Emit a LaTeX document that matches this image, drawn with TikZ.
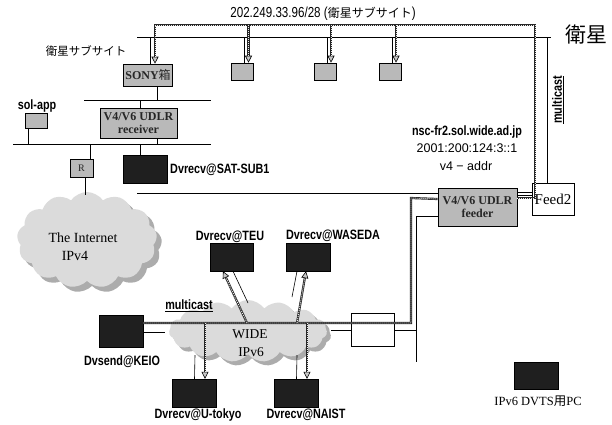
\documentclass[tikz,border=0pt]{standalone}
\usepackage{fontspec}
\setmainfont{Liberation Serif}
\newfontfamily\lb[FakeStretch=0.8]{Liberation Sans}
\newfontfamily\ls{Liberation Sans}
\newfontfamily\jp{Noto Sans CJK JP}
\usetikzlibrary{shapes.symbols,arrows.meta}
\tikzset{
  gbox/.style={draw=black, line width=0.6pt, fill=gray!55, inner sep=0pt, text=black!85,
    font=\rmfamily\bfseries\fontsize{12}{13}\selectfont, align=center},
  dbox/.style={draw=black, fill=black!88, inner sep=0pt, minimum width=44pt, minimum height=28pt},
  wbox/.style={draw=black, fill=white, line width=0.6pt, inner sep=0pt},
  lbl/.style={font=\lb\bfseries\fontsize{13.5}{14}\selectfont, inner sep=0pt},
  ln/.style={draw=black, line width=0.6pt},
  mcbase/.style={draw=black!85, line width=2.2pt},
  mc/.style={mcbase, postaction={draw=gray!15, line width=0.9pt, dash pattern=on 1pt off 1pt}},
  mca/.style={mcbase, -{Triangle[length=7pt, width=7pt, fill=gray!45, line width=0.6pt, color=black]},
    postaction={draw=gray!15, line width=0.9pt, dash pattern=on 1pt off 1pt, -, shorten >=7pt}},
  cl/.style={cloud, cloud puffs=13, cloud puff arc=110, draw=none, inner sep=0pt},
  ser/.style={font=\rmfamily\fontsize{14}{15}\selectfont, inner sep=0pt}
}
\begin{document}
\begin{tikzpicture}[x=1pt, y=-1pt]
\useasboundingbox (0,0) rectangle (612,424);

% clouds
\node[cl, fill=gray!65, minimum width=140pt, minimum height=96pt] (inetsh) at (92,245) {};
\node[cl, fill=gray!28, minimum width=140pt, minimum height=96pt] (inet) at (87,240) {};
\node[cl, fill=gray!65, minimum width=158pt, minimum height=62pt, cloud puffs=15] (widesh) at (252,335) {};
\node[cl, fill=gray!28, minimum width=158pt, minimum height=62pt, cloud puffs=15] (wide) at (248,331) {};
\node[ser] (inettxt1) at (83,238) {The Internet};
\node[ser] (inettxt2) at (75,256) {IPv4};
\node[ser, font=\rmfamily\fontsize{13.5}{14}\selectfont] (widetxt1) at (250,334) {WIDE};
\node[ser, font=\rmfamily\fontsize{13.5}{14}\selectfont] (widetxt2) at (251,352) {IPv6};

% texts
\node[inner sep=0pt] (toplbl) at (323,14) {{\lb\fontsize{14.5}{15}\selectfont 202.249.33.96/28 (}{\jp\fontsize{12}{12}\selectfont 衛星サブサイト}{\lb\fontsize{14.5}{15}\selectfont )}};
\node[inner sep=0pt, font=\jp\fontsize{21}{22}\selectfont] (eisei) at (586,35) {衛星};
\node[inner sep=0pt, font=\jp\fontsize{11.5}{12}\selectfont] (subsite) at (86,51) {衛星サブサイト};
\node[lbl] (solappl) at (37,106) {sol-app};
\node[lbl] (nsc) at (467,132) {nsc-fr2.sol.wide.ad.jp};
\node[inner sep=0pt, font=\ls\fontsize{12.5}{13}\selectfont] (v6addr) at (467,148) {2001:200:124:3::1};
\node[inner sep=0pt, font=\ls\fontsize{12.5}{13}\selectfont] (v4addr) at (466,166) {v4 − addr};
\node[lbl, rotate=90] (mcr) at (558,100) {\underline{multicast}};
\node[lbl] (mcl) at (189,306) {\underline{multicast}};

% boxes
\node[gbox, minimum width=49pt, minimum height=22pt] (sony) at (148,75) {SONY{\jp\mdseries 箱}};
\node[gbox, minimum width=22pt, minimum height=17pt] (s1) at (242.5,71.5) {};
\node[gbox, minimum width=22pt, minimum height=17pt] (s2) at (325,71.5) {};
\node[gbox, minimum width=22pt, minimum height=17pt] (s3) at (390,71.5) {};
\node[gbox, minimum width=77pt, minimum height=30pt] (recv) at (138.5,123) {V4/V6 UDLR\\receiver};
\node[gbox, minimum width=22pt, minimum height=15pt] (solapp) at (36,120.5) {};
\node[gbox, minimum width=23pt, minimum height=18pt, font=\rmfamily\fontsize{10}{10}\selectfont] (rt) at (81.5,168) {R};
\node[dbox] (satsub) at (145,169.5) {};
\node[lbl, anchor=west] (satsubl) at (170,169.5) {Dvrecv@SAT-SUB1};
\node[gbox, minimum width=79pt, minimum height=38pt] (feeder) at (477.5,207) {V4/V6 UDLR\\feeder};
\node[wbox, minimum width=42pt, minimum height=32pt, font=\rmfamily\fontsize{15}{15}\selectfont] (feed2) at (553,199) {Feed2};
\node[wbox, minimum width=43pt, minimum height=33pt] (wb) at (372.5,330) {};
\node[dbox, minimum height=32pt] (keio) at (121,331) {};
\node[lbl] (keiol) at (122,362) {Dvsend@KEIO};
\node[dbox] (utokyo) at (194.5,393) {};
\node[lbl] (utokyol) at (198,415) {Dvrecv@U-tokyo};
\node[dbox] (naist) at (296.5,393) {};
\node[lbl] (naistl) at (306,415) {Dvrecv@NAIST};
\node[dbox, minimum width=43pt] (teu) at (232,257) {};
\node[lbl] (teul) at (230,237) {Dvrecv@TEU};
\node[dbox] (waseda) at (308,257) {};
\node[lbl] (wasedal) at (333,236) {Dvrecv@WASEDA};
\node[dbox, minimum height=27pt] (legend) at (536,376) {};
\node[inner sep=0pt, font=\rmfamily\fontsize{12.5}{13}\selectfont] (legendl) at (538,401) {IPv6 DVTS{\jp 用}PC};

% coordinates
\coordinate (satL) at (137,37);
\coordinate (satR) at (551,37);
\coordinate (b1L) at (84,100);
\coordinate (b1R) at (211,100);
\coordinate (b2L) at (13,144);
\coordinate (b2R) at (211,144);
\coordinate (v4L) at (137,193);
\coordinate (m1) at (535,198);
\coordinate (m2) at (535,25);
\coordinate (m3) at (155,25);
\coordinate (m4) at (411,198);
\coordinate (m5) at (411,323);
\coordinate (f1) at (416,216);
\coordinate (f2) at (416,362);
\coordinate (tA) at (247,323);
\coordinate (tB) at (248,303);
\coordinate (wA) at (297,323);
\coordinate (wB) at (292,297);
\coordinate (uA) at (195,355);
\coordinate (nA) at (297,355);
\coordinate (wideL) at (331,330);
\coordinate (rtB) at (85,195);

% thin lines
\draw[ln] (satL) -- (satR);
\draw[ln] ([xshift=2pt]sony.north) -- ([xshift=2pt]sony.north |- satL);
\draw[ln] ([xshift=2pt]s1.north) -- ([xshift=2pt]s1.north |- satL);
\draw[ln] ([xshift=2pt]s2.north) -- ([xshift=2pt]s2.north |- satL);
\draw[ln] ([xshift=2pt]s3.north) -- ([xshift=2pt]s3.north |- satL);
\draw[ln] (b1L) -- (b1R);
\draw[ln] (b2L) -- (b2R);
\draw[ln] ([xshift=9pt]sony.south) -- ([xshift=9pt]sony.south |- b1L);
\draw[ln] ([xshift=1.5pt]recv.north) -- ([xshift=1.5pt]recv.north |- b1L);
\draw[ln] ([xshift=18.5pt]recv.south) -- ([xshift=18.5pt]recv.south |- b2L);
\draw[ln] ([xshift=-8pt]solapp.south) -- ([xshift=-8pt]solapp.south |- b2L);
\draw[ln] ([xshift=8.5pt]rt.north) -- ([xshift=8.5pt]rt.north |- b2L);
\draw[ln] ([xshift=3.5pt]rt.south) -- (rtB);
\draw[ln] ([xshift=-5pt]satsub.north) -- ([xshift=-5pt]satsub.north |- b2L);
\draw[ln] (v4L) -- (v4L -| feeder.west);
\draw[ln] ([yshift=15pt]feeder.east) -- ([yshift=15pt]feeder.east -| feed2.west);
\draw[ln] ([yshift=12pt]feeder.east) -- ([yshift=12pt]feeder.east -| feed2.west);
\draw[ln] ([xshift=-6pt]feed2.north) -- ([xshift=-6pt]feed2.north |- satL);
\draw[ln] ([yshift=-9pt]feeder.west) -- (f1) -- (f2);
\draw[ln] (wb.east) -- (wb.east -| f1);
\draw[ln] (wb.west) -- (wideL);
\draw[ln] ([yshift=-1pt]keio.east) -- ++(22,0);
\draw[ln] ([xshift=1pt]teu.south) -- (tB);
\draw[ln] ([xshift=-11pt]waseda.south) -- (wB);
\draw[ln] (uA) -- (utokyo.north);
\draw[ln] (nA) -- (naist.north);

% multicast (stippled) lines
\draw[mca] ([yshift=9pt]feeder.east) -- (m1) -- (m2) -- (m3) -- ([xshift=7pt]sony.north);
\draw[mca] ([xshift=6pt]s1.north |- m2) -- ([xshift=6pt]s1.north);
\draw[mca] ([xshift=6pt]s2.north |- m2) -- ([xshift=6pt]s2.north);
\draw[mca] ([xshift=6pt]s3.north |- m2) -- ([xshift=6pt]s3.north);
\draw[mc] ([yshift=8pt]feeder.west) -- (m4) -- (m5) -- (keio.east |- m5);
\draw[mca] ([xshift=10.5pt]utokyo.north |- m5) -- ([xshift=10.5pt]utokyo.north);
\draw[mca] ([xshift=10.5pt]naist.north |- m5) -- ([xshift=10.5pt]naist.north);
\draw[mca] (tA) -- ([xshift=-9pt]teu.south);
\draw[mca] (wA) -- ([xshift=-2pt]waseda.south);
\end{tikzpicture}
\end{document}
